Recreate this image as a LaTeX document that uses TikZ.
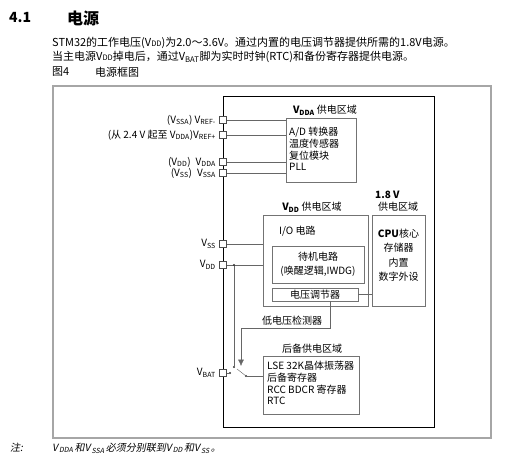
\documentclass[tikz,border=0pt]{standalone}
\usepackage{fontspec}
\setmainfont{Noto Sans CJK SC}
\newfontfamily\slantcjk[FakeSlant=0.2]{Noto Sans CJK SC}
\usetikzlibrary{positioning,arrows.meta}
\newcommand\vs[1]{V\textsubscript{#1}}
\newcommand\vsi[1]{V\kern1.2pt\textsubscript{#1}\kern1.2pt}
\newcommand\smv[1]{V{\fontsize{7.5}{8}\selectfont #1}}

\begin{document}
\begin{tikzpicture}[x=1pt,y=-1pt,font=\fontsize{10}{11}\selectfont,
  dom/.style={draw=black!55,thin,minimum width=#1},
  pad/.style={draw=black!70,fill=white,minimum size=7pt,inner sep=0pt},
  lbl/.style={inner sep=0pt,anchor=east},
  txt/.style={inner sep=0pt,anchor=west},
  body/.style={txt,font=\fontsize{11}{12}\selectfont},
  wire/.style={draw=black!60},
  dot/.style={circle,fill=black!80,inner sep=0pt,minimum size=2.4pt}]
  \useasboundingbox (0,0) rectangle (514,460);
  % heading and body text
  \node[txt,font=\bfseries\fontsize{14}{15}\selectfont] (secno) at (9,18) {4.1};
  \node[txt,font=\bfseries\fontsize{16}{17}\selectfont] (sectitle) at (67,18) {电源};
  \node[body] (para1) at (52,43) {STM32的工作电压(\smv{DD})为2.0～3.6V。通过内置的电压调节器提供所需的1.8V电源。};
  \node[body] (para2) at (52,57) {当主电源\smv{DD}掉电后，通过\vs{BAT}脚为实时时钟(RTC)和备份寄存器提供电源。};
  \node[body] (fignum) at (52,72) {图4};
  \node[body] (figtitle) at (95,72) {电源框图};
  % frames
  \node[draw=black!35,line width=1.4pt,minimum width=438,minimum height=352,inner sep=0pt] (frame) at (272,262) {};
  \node[draw=black,line width=0.9pt,minimum width=211,minimum height=331,inner sep=0pt] (chip) at (328.5,261.5) {};
  % power domains
  \node[dom=70,minimum height=64] (vdda) at (321,150) {};
  \node[dom=105,minimum height=91] (vdd) at (315.5,260.5) {};
  \node[dom=92,minimum height=37] (sby) at (318,264.5) {};
  \node[dom=86,minimum height=13] (reg) at (315,294.5) {};
  \node[dom=53,minimum height=91] (core) at (398.5,260.5) {};
  \node[dom=96,minimum height=58] (bkp) at (311,385) {};
  % domain titles and contents
  \node (vddat) at (325,110) {\textbf{\vs{DDA}} 供电区域};
  \node[txt,align=left,font=\fontsize{10}{11.7}\selectfont,anchor=north west] (vddac) at (289,127) {A/D 转换器\\温度传感器\\复位模块\\PLL};
  \node (vddt) at (312,207) {\textbf{\vs{DD}} 供电区域};
  \node[txt] (io) at (279,231) {I/O 电路};
  \node[align=center,font=\fontsize{10}{14}\selectfont] (sbyc) at (318,264) {待机电路\\(唤醒逻辑,IWDG)};
  \node (regc) at (315,294.5) {电压调节器};
  \node[txt,font=\bfseries\fontsize{10}{11}\selectfont] (v18) at (375,195) {1.8 V};
  \node (coret) at (398,207) {供电区域};
  \node[align=center,font=\fontsize{10}{14.5}\selectfont] (corec) at (398.5,255) {\textbf{CPU}核心\\存储器\\内置\\数字外设};
  \node (bkpt) at (312,349) {后备供电区域};
  \node[txt,align=left,font=\fontsize{10}{11.7}\selectfont,anchor=north west] (bkpc) at (267,361) {LSE 32K晶体振荡器\\后备寄存器\\RCC BDCR 寄存器\\RTC};
  % pads on the chip edge
  \node[pad] (prefm) at (223,120) {};
  \node[pad] (prefp) at (223,135) {};
  \node[pad] (pdda) at (223,162) {};
  \node[pad] (pssa) at (223,173) {};
  \node[pad] (pss) at (223,244) {};
  \node[pad] (pdd) at (223,265) {};
  \node[pad] (pbat) at (223,373) {};
  \node[lbl] at (216,120) {(\vs{SSA}) \vs{REF-}};
  \node[lbl] at (216,135) {(从 2.4 V 起至 \vs{DDA})\vs{REF+}};
  \node[lbl] at (216,162) {(\vs{DD})\enspace\vs{DDA}};
  \node[lbl] at (216,173) {(\vs{SS})\enspace\vs{SSA}};
  \node[lbl] at (216,244) {\vs{SS}};
  \node[lbl] at (216,265) {\vs{DD}};
  \node[lbl] at (216,373) {\vs{BAT}};
  % wires
  \draw[wire] (prefm.east) -- (prefm -| vdda.west);
  \draw[wire] (prefp.east) -- (prefp -| vdda.west);
  \draw[wire] (pdda.east) -- (pdda -| vdda.west);
  \draw[wire] (pssa.east) -- (pssa -| vdda.west);
  \draw[wire] (pss.east) -- (pss -| vdd.west);
  \draw[wire] (pdd.east) -- (pdd -| vdd.west);
  \draw[wire] (reg.east) -- (reg -| core.west);
  % switch between VDD and VBAT
  \node[dot] (jdd) at (234,265) {};
  \node[dot] (swdd) at (234,367) {};
  \node[dot] (swbat) at (230,373) {};
  \node[dot] (swcom) at (246,376) {};
  \coordinate (blade) at (237,369);
  \draw[wire] (jdd) -- (swdd);
  \draw[wire] (pbat.east) -- (swbat);
  \draw[wire] (swcom) -- (blade);
  \draw[wire] (swcom) -- (swcom -| bkp.west);
  % low voltage detector
  \coordinate (bend) at (330,328);
  \coordinate (swtip) at (241,366);
  \draw[wire,-{Latex[length=2.2mm,width=2mm]}] (bend |- reg.south) -- (bend) -| (swtip);
  \node (lvd) at (292,321) {低电压检测器};
  % note
  \node[txt,font=\slantcjk\fontsize{10}{11}\selectfont] (notek) at (10,448) {注:};
  \node[txt,font=\slantcjk\fontsize{10}{11}\selectfont] (note) at (52,448) {\vsi{DDA}和\vsi{SSA}必须分别联到\vsi{DD}和\vsi{SS}。};
\end{tikzpicture}
\end{document}
